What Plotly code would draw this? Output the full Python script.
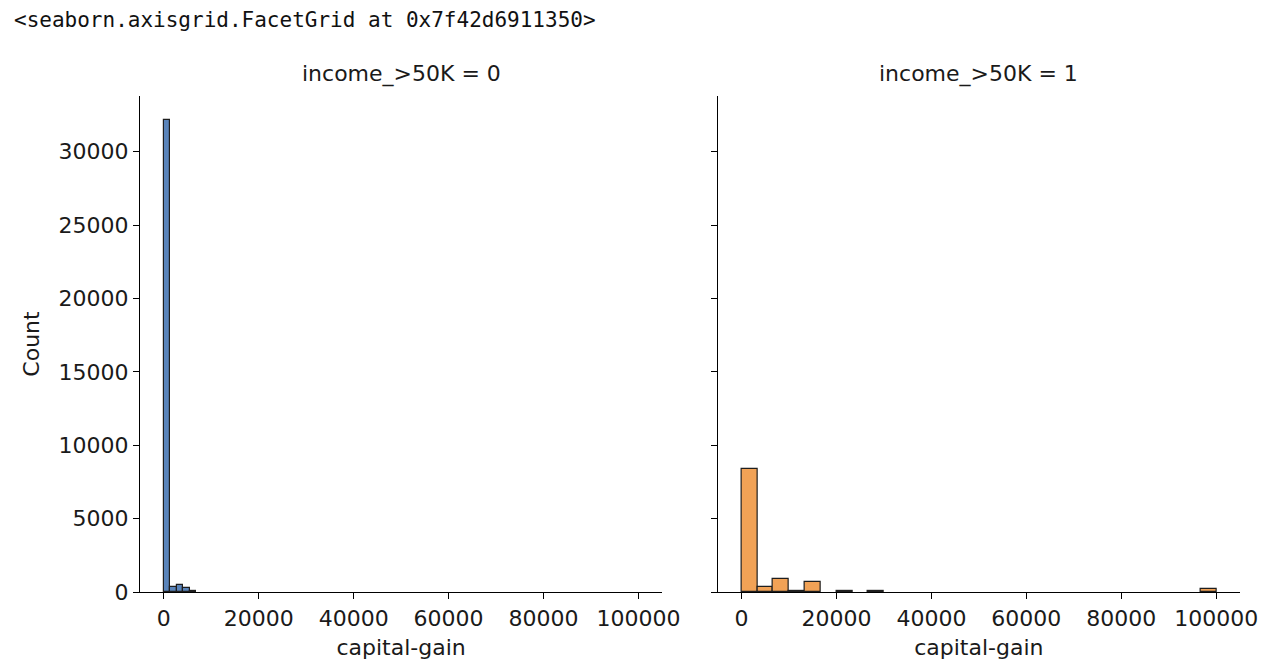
import numpy as np
import plotly.graph_objects as go

# ---- data ----
panel_titles = ["income_>50K = 0", "income_>50K = 1"]
x_label = "capital-gain"
y_label = "Count"

# income 0: 30 bins spanning 0 .. 41310
bins0_start = 0
bins0_end = 41310
counts0 = [32180, 360, 500, 250, 70, 0, 0, 0, 0, 0, 0, 0, 0, 0, 0,
           0, 0, 0, 0, 0, 0, 0, 0, 0, 0, 0, 0, 0, 0, 0]

# income 1: 30 bins spanning 0 .. 99999
bins1_start = 0
bins1_end = 99999
counts1 = [8410, 330, 890, 60, 660, 0, 50, 0, 55, 0, 0, 0, 0, 0, 0,
           0, 0, 0, 0, 0, 0, 0, 0, 0, 0, 0, 0, 0, 0, 180]

x_ticks = [0, 20000, 40000, 60000, 80000, 100000]
y_ticks = [0, 5000, 10000, 15000, 20000, 25000, 30000]

header_text = "<seaborn.axisgrid.FacetGrid at 0x7f42d6911350>"

# ---- styling ----
W, H = 1282, 666
ml, mr, mt, mb = 140, 41.5, 95.8, 74.3
plot_w = W - ml - mr
plot_h = H - mt - mb
dom1 = [0, 522.5 / plot_w]
dom2 = [(718 - ml) / plot_w, 1]

blue = "#5A84BA"
orange = "#F1A256"
edge = "#1e1e1e"
font_fam = "DejaVu Sans"
fsize = 22
txt_col = "#1a1a1a"


def bins(start, end, counts):
    n = len(counts)
    w = (end - start) / n
    centers = start + w * (np.arange(n) + 0.5)
    c = np.asarray(counts, dtype=float)
    keep = c > 0
    return centers[keep], c[keep], w


x0, y0, w0 = bins(bins0_start, bins0_end, counts0)
x1, y1, w1 = bins(bins1_start, bins1_end, counts1)

fig = go.Figure()
fig.add_trace(go.Bar(x=x0, y=y0, width=w0, marker=dict(color=blue, line=dict(color=edge, width=1.2)),
                     xaxis="x", yaxis="y", showlegend=False))
fig.add_trace(go.Bar(x=x1, y=y1, width=w1, marker=dict(color=orange, line=dict(color=edge, width=1.2)),
                     xaxis="x2", yaxis="y2", showlegend=False))

ymax = max(max(counts0), max(counts1)) * 1.05
xrange = [-5000, 105000]

axis_common = dict(
    showline=True, linecolor="black", linewidth=1.25,
    ticks="outside", ticklen=6, tickwidth=1.25, tickcolor="black",
    showgrid=False, zeroline=False,
    tickfont=dict(family=font_fam, size=fsize, color=txt_col),
)
title_font = dict(family=font_fam, size=fsize, color=txt_col)

fig.update_layout(
    width=W, height=H,
    margin=dict(l=ml, r=mr, t=mt, b=mb, autoexpand=False),
    plot_bgcolor="white", paper_bgcolor="white",
    bargap=0, barmode="overlay",
    font=dict(family=font_fam, size=fsize, color=txt_col),
    xaxis=dict(domain=dom1, range=xrange, tickvals=x_ticks, ticktext=[str(v) for v in x_ticks],
               anchor="y", title=dict(text=x_label, standoff=10, font=title_font), **axis_common),
    yaxis=dict(range=[0, ymax], tickvals=y_ticks, ticktext=[str(v) for v in y_ticks],
               anchor="x", title=dict(text=y_label, standoff=12, font=title_font), **axis_common),
    xaxis2=dict(domain=dom2, range=xrange, tickvals=x_ticks, ticktext=[str(v) for v in x_ticks],
                anchor="y2", title=dict(text=x_label, standoff=10, font=title_font), **axis_common),
    yaxis2=dict(range=[0, ymax], tickvals=y_ticks, showticklabels=False, anchor="x2",
                matches="y", **axis_common),
)

annotations = []
for dom, t in zip([dom1, dom2], panel_titles):
    annotations.append(dict(text=t, xref="paper", yref="paper", x=(dom[0] + dom[1]) / 2,
                            y=(H - mb - 74) / plot_h,
                            xanchor="center", yanchor="middle", showarrow=False,
                            font=title_font))
annotations.append(dict(text=header_text, xref="paper", yref="paper",
                        x=(12 - ml) / plot_w, y=(H - mb - 20) / plot_h,
                        xanchor="left", yanchor="middle", showarrow=False,
                        font=dict(family="DejaVu Sans Mono", size=21, color="#111111")))
fig.update_layout(annotations=annotations)

fig.write_html("out.html")
